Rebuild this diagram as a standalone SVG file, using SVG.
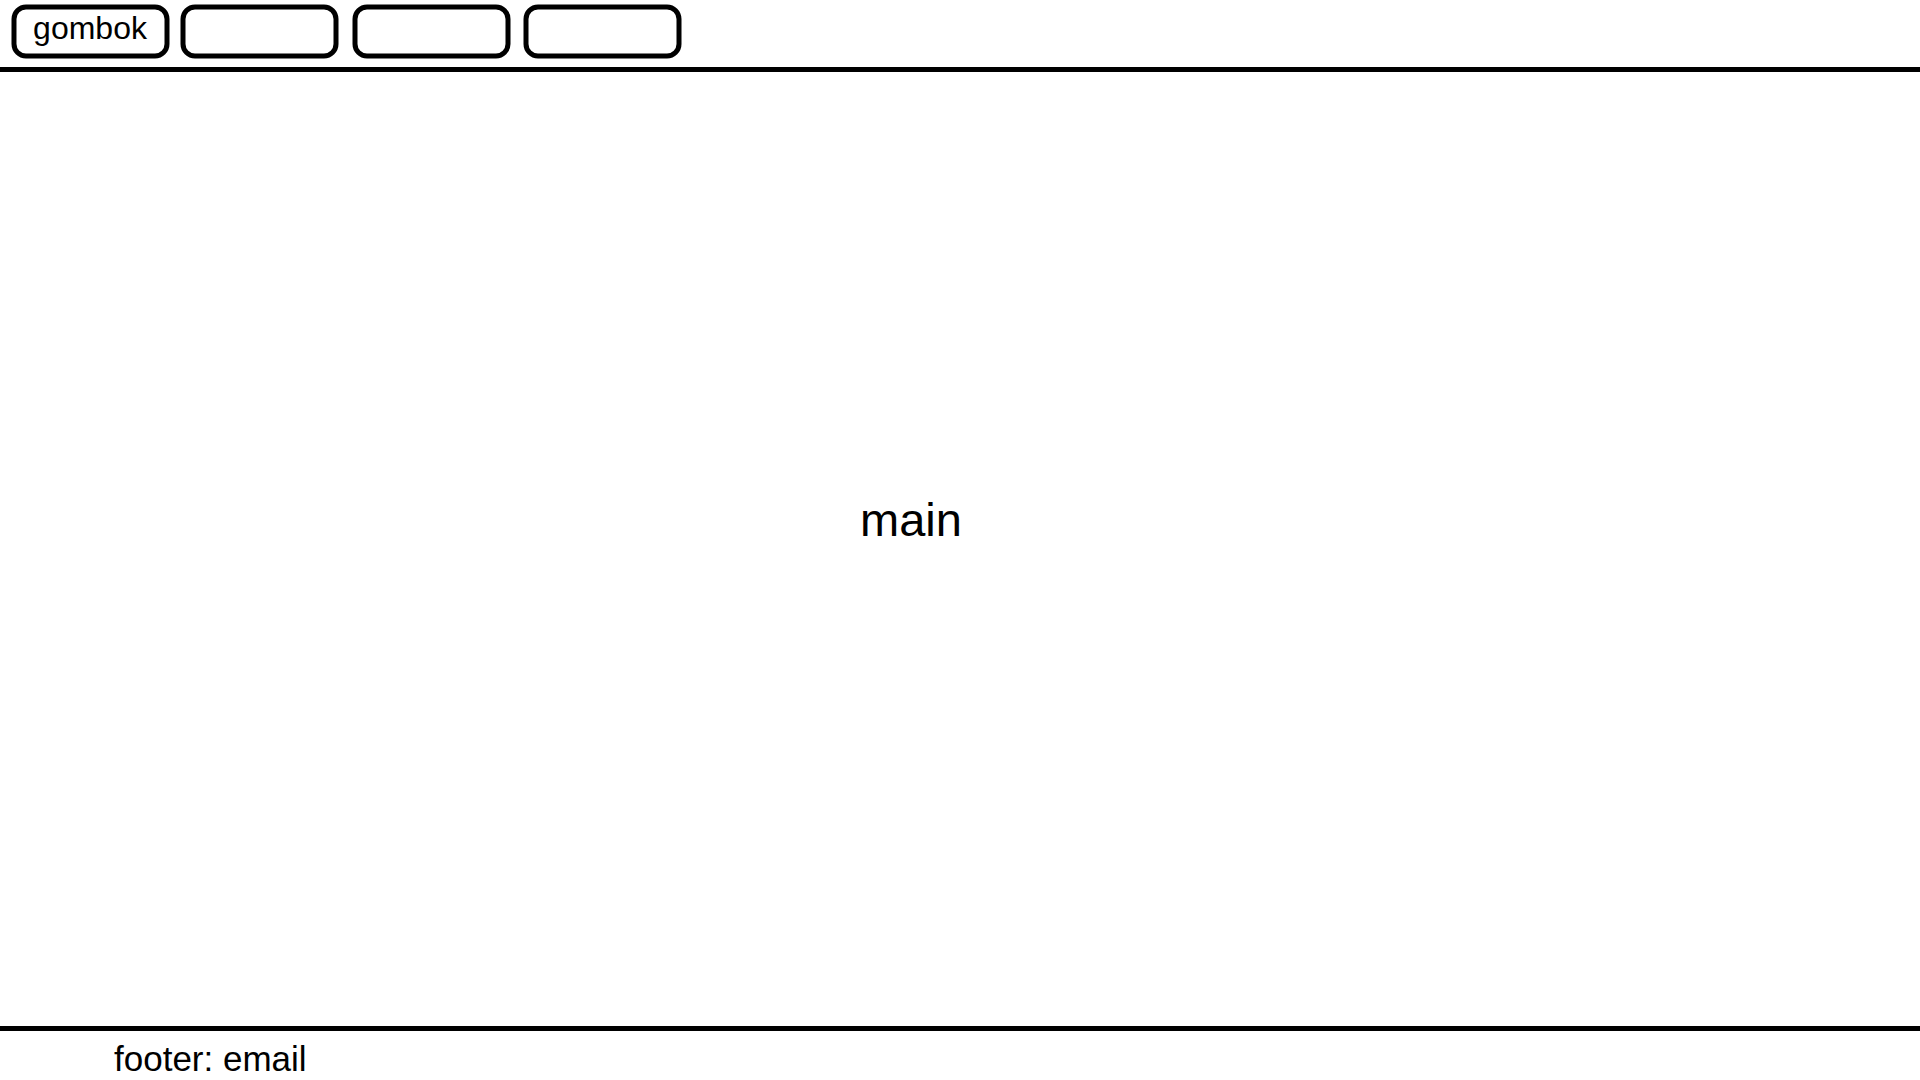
<svg xmlns="http://www.w3.org/2000/svg" width="1920" height="1080" viewBox="0 0 1920 1080">
<style>
.btn{fill:#fff;stroke:#000;stroke-width:5}
.rule{stroke:#000;stroke-width:5}
text{font-family:"Liberation Sans",Arial,sans-serif;fill:#000}
</style>
<rect width="1920" height="1080" fill="#fff"/>
<g id="nav">
<g id="btn1"><rect class="btn" x="14" y="7" width="153" height="49" rx="12"/><text x="90" y="39" font-size="32" text-anchor="middle">gombok</text></g>
<g id="btn2"><rect class="btn" x="183" y="7" width="153" height="49" rx="12"/></g>
<g id="btn3"><rect class="btn" x="355" y="7" width="153" height="49" rx="12"/></g>
<g id="btn4"><rect class="btn" x="526" y="7" width="153" height="49" rx="12"/></g>
</g>
<g id="connectors">
<line class="rule" x1="0" y1="69.5" x2="1920" y2="69.5"/>
<line class="rule" x1="0" y1="1028.5" x2="1920" y2="1028.5"/>
</g>
<g id="main"><text x="911" y="536" font-size="47" text-anchor="middle">main</text></g>
<g id="footer"><text x="114" y="1071" font-size="35">footer: email</text></g>
</svg>
